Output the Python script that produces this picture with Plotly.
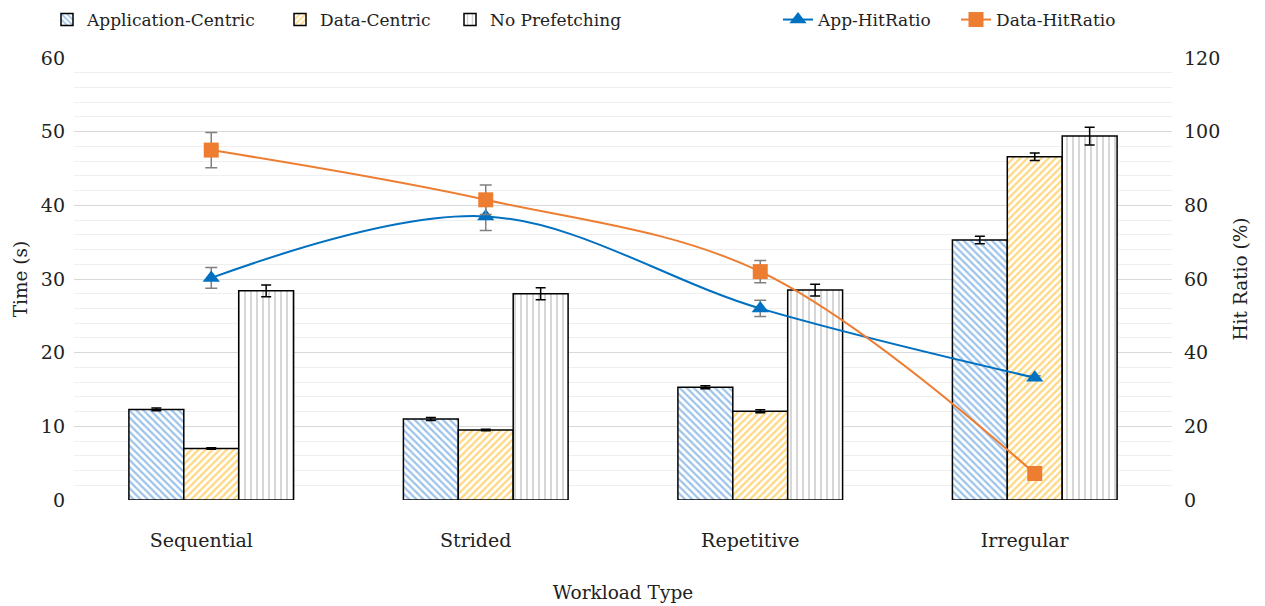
import plotly.graph_objects as go

categories = ["Sequential", "Strided", "Repetitive", "Irregular"]
app_time = [12.3, 11.0, 15.3, 35.3]
app_time_err = [0.2, 0.2, 0.2, 0.5]
data_time = [7.0, 9.5, 12.05, 46.6]
data_time_err = [0.1, 0.1, 0.2, 0.5]
nopref_time = [28.4, 28.0, 28.5, 49.4]
nopref_time_err = [0.8, 0.8, 0.8, 1.2]
app_hit = [60.3, 77.0, 52.0, 33.2]
app_hit_err = [2.8, 3.8, 2.2, 0.5]
data_hit = [95.0, 81.5, 62.0, 7.2]
data_hit_err = [4.8, 4.0, 3.0, 0.5]

FONT = "DejaVu Serif"
W, H = 1265, 606

fig = go.Figure()

def bar(name, y, err, fg, shape, size, solidity, leg):
    return go.Bar(
        name=name, x=categories, y=y, legend=leg,
        error_y=dict(type="data", array=err, color="black", thickness=1.5, width=5),
        marker=dict(color="white", line=dict(color="black", width=1.5),
                    pattern=dict(shape=shape, fgcolor=fg, bgcolor="white",
                                 size=size, solidity=solidity)),
    )

fig.add_trace(bar("Application-Centric", app_time, app_time_err, "#3A86D4", "\\", 5, 0.45, "legend"))
fig.add_trace(bar("Data-Centric", data_time, data_time_err, "#FFB000", "/", 5, 0.45, "legend2"))
fig.add_trace(bar("No Prefetching", nopref_time, nopref_time_err, "#A0A0A0", "|", 6, 0.28, "legend3"))

fig.add_trace(go.Scatter(
    name="App-HitRatio", x=categories, y=app_hit, yaxis="y2", legend="legend4",
    mode="lines+markers", line=dict(color="#0070C0", width=2, shape="spline", smoothing=1),
    marker=dict(symbol="triangle-up", size=15, color="#0070C0"),
    error_y=dict(type="data", array=app_hit_err, color="#808080", thickness=1.5, width=6),
))
fig.add_trace(go.Scatter(
    name="Data-HitRatio", x=categories, y=data_hit, yaxis="y2", legend="legend5",
    mode="lines+markers", line=dict(color="#ED7D31", width=2, shape="spline", smoothing=1),
    marker=dict(symbol="square", size=15, color="#ED7D31"),
    error_y=dict(type="data", array=data_hit_err, color="#808080", thickness=1.5, width=6),
))

def leg(left_px):
    return dict(orientation="h", x=left_px / W, xanchor="left", y=1 - 12 / H,
                yanchor="middle", xref="container", yref="container",
                font=dict(size=17, color="#222222"), bgcolor="rgba(0,0,0,0)")

fig.update_layout(
    width=W, height=H,
    margin=dict(l=66, r=101, t=50, b=114, autoexpand=False),
    paper_bgcolor="white", plot_bgcolor="white",
    font=dict(family=FONT, size=18, color="#222222"),
    barmode="group", bargap=0.4, bargroupgap=0,
    showlegend=True,
    legend=leg(39), legend2=leg(272), legend3=leg(442), legend4=leg(770), legend5=leg(948),
    xaxis=dict(title=dict(text="Workload Type", standoff=36, font=dict(size=18.5)),
               ticks="outside", ticklen=23, tickfont=dict(size=19),
               tickcolor="rgba(0,0,0,0)", showgrid=False, showline=False, zeroline=False,
               automargin=False, ticklabelshift=-10),
    yaxis=dict(title=dict(text="Time (s)", standoff=8, font=dict(size=18.5)),
               range=[0, 60], dtick=10, tickfont=dict(size=19),
               showgrid=True, gridcolor="#d9d9d9", gridwidth=1.2,
               minor=dict(dtick=2, showgrid=True, gridcolor="#efefef", gridwidth=1),
               zeroline=False, showline=False, ticks="", ticklabelstandoff=8,
               automargin=False),
    yaxis2=dict(title=dict(text="Hit Ratio (%)", standoff=14, font=dict(size=18.5)),
                range=[0, 120], dtick=20, tickfont=dict(size=19),
                overlaying="y", side="right", showgrid=False, zeroline=False,
                showline=False, ticklabelstandoff=11, automargin=False),
)

fig.write_html("out.html")
